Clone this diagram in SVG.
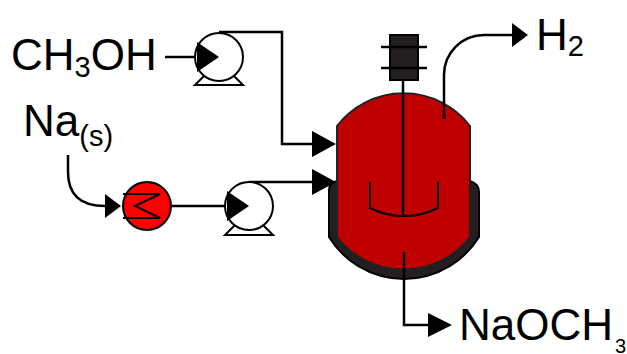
<svg xmlns="http://www.w3.org/2000/svg" width="627" height="354" viewBox="0 0 627 354">
<style>
.l{fill:none;stroke:#000;stroke-width:2.5}
.t{font-family:"Liberation Sans",Arial,sans-serif;font-size:44px;fill:#000}
.s{font-size:29px}
.a{fill:#000}
.p{fill:#fff;stroke:#000;stroke-width:2}
.d{fill:#231f20;stroke:#000;stroke-width:2}
</style>
<rect width="627" height="354" fill="#fff"/>
<g id="connectors">
<path class="l" d="M165 57H197"/>
<path class="l" d="M219 32H282V144H312"/>
<path class="l" d="M249 182H312"/>
<path class="l" d="M172 206H226"/>
<path class="l" d="M68 155V172Q68 206 105 206"/>
<path class="a" d="M312 131L336 144L312 157Z"/>
<path class="a" d="M312 169L336 182L312 195Z"/>
<path class="a" d="M105 194L121 206L105 218Z"/>
</g>
<g id="ch3oh"><text class="t" x="11" y="70">CH<tspan class="s" dy="7">3</tspan><tspan dy="-7">OH</tspan></text></g>
<g id="na"><text class="t" x="23" y="136">Na<tspan class="s" dy="10">(s)</tspan></text></g>
<g id="h2"><text class="t" x="536" y="50">H<tspan class="s" dy="6">2</tspan></text></g>
<g id="naoch3"><text class="t" x="459" y="340">NaOCH<tspan dx="2" dy="13" font-size="20">3</tspan></text></g>
<g id="pump1">
<path class="p" d="M195 85L206 74H232L243 85Z"/>
<circle class="p" cx="219" cy="57" r="24"/>
<path class="a" d="M197 42L219 57L197 72Z"/>
</g>
<g id="pump2">
<path class="p" d="M225 235L236 224H262L273 235Z"/>
<circle class="p" cx="249" cy="206" r="24"/>
<path class="a" d="M227 191L249 206L227 221Z"/>
</g>
<g id="heater">
<circle cx="147" cy="206" r="24" fill="#f00" stroke="#000" stroke-width="2"/>
<path d="M123 194H160L135 206L160 218H123" fill="none" stroke="#000" stroke-width="2"/>
</g>
<g id="reactor">
<path class="d" d="M329 190Q329 182 338 181H470Q479 184 479 192V237A88 88 0 0 1 329 237Z"/>
<path d="M337 126A84 84 0 0 1 470 126V237A84 84 0 0 1 337 237Z" fill="#c00000" stroke="#222" stroke-width="2"/>
<path d="M370 182V208A76 76 0 0 0 438 208V182" fill="none" stroke="#000" stroke-width="2"/>
<path class="l" d="M403 80V217"/>
<path class="l" d="M404 252V325H430"/>
<path class="a" d="M428 313L452 325L428 337Z"/>
<path class="l" d="M444 119V75A40 40 0 0 1 484 35H512"/>
<path class="a" d="M512 23L528 35L512 47Z"/>
</g>
<g id="motor">
<rect class="d" x="390" y="35" width="28" height="45"/>
<path d="M381 47H427M381 68H427" stroke="#000" stroke-width="2.5"/>
</g>
</svg>
